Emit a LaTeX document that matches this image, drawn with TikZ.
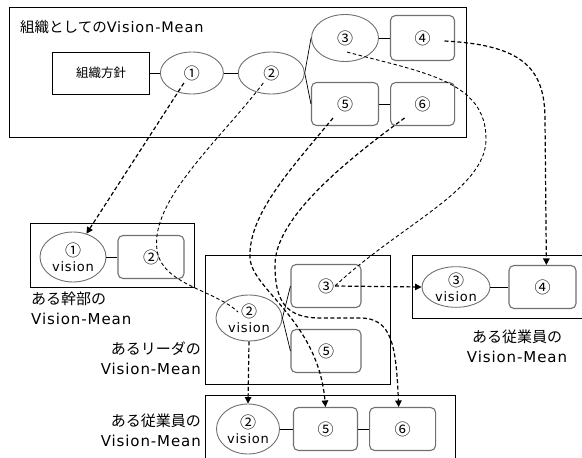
\documentclass[tikz,border=0pt]{standalone}
\usepackage{fontspec}
\setmainfont{Noto Sans CJK JP}
\newfontfamily\lfont{DejaVu Sans}[LetterSpace=6]
\usepackage{tikz}
\usetikzlibrary{arrows.meta,positioning,shapes.geometric}
\definecolor{edgegray}{RGB}{112,112,112}
\newcommand\visionword{{\lfont\fontsize{13}{14}\selectfont vision}}

\begin{document}
\begin{tikzpicture}[x=1pt,y=-1pt,
 frame/.style={draw,line width=0.8pt,anchor=north west,inner sep=0pt},
 oval/.style={ellipse,draw=edgegray,line width=0.9pt,inner sep=0pt,align=center,font=\fontsize{16}{15}\selectfont},
 rbox/.style={draw=edgegray,line width=1.1pt,rounded corners=5pt,inner sep=0pt,minimum width=66pt,minimum height=43pt,font=\fontsize{16}{16}\selectfont},
 link/.style={line width=0.7pt},
 flow/.style={line width=1.2pt,dash pattern=on 4pt off 2.5pt,-{Triangle[length=6.5pt,width=6.5pt]}},
 trace/.style={line width=0.9pt,dash pattern=on 3.5pt off 2.5pt},
 caption/.style={font=\fontsize{15}{20}\selectfont,inner sep=0pt}
]
\useasboundingbox (0,0) rectangle (582,458);
% frames
\node[frame,minimum width=457pt,minimum height=130pt] (orgframe) at (9,7) {};
\node[frame,minimum width=164pt,minimum height=64pt] (execframe) at (30,223) {};
\node[frame,minimum width=185pt,minimum height=129pt] (leadframe) at (205,255) {};
\node[frame,minimum width=180pt,minimum height=63pt] (empaframe) at (412,255) {};
\node[frame,minimum width=250pt,minimum height=80pt] (empbframe) at (205,395) {};
% organisation
\node[anchor=west,inner sep=0pt,font=\fontsize{14.5}{16}\selectfont] (orgtitle) at (20,27) {組織としての{\lfont Vision-Mean}};
\node[draw,line width=0.9pt,minimum width=97pt,minimum height=42pt,font=\fontsize{12.5}{14}\selectfont] (policy) at (101,73) {組織方針};
\node[oval,minimum width=63pt,minimum height=42pt,right=10pt of policy] (o1) {①};
\node[oval,minimum width=66pt,minimum height=42pt,right=14pt of o1] (o2) {②};
\node[oval,minimum width=67pt,minimum height=47pt] (o3) at (345,38) {③};
\node[rbox,minimum width=64pt,minimum height=45pt,right=11pt of o3] (o4) {④};
\node[rbox,minimum width=67pt] (o5) at (345,104) {⑤};
\node[rbox,minimum width=64pt,right=11pt of o5] (o6) {⑥};
% executive
\node[oval,minimum width=66pt,minimum height=50pt] (e1) at (73,257) {①\\\visionword};
\node[rbox,right=11pt of e1] (e2) {②};
\node[caption,anchor=north west,align=left] (execlabel) at (31,292) {ある幹部の\\{\lfont Vision-Mean}};
% leader
\node[oval,minimum width=66pt,minimum height=46pt] (l2) at (249,318) {②\\\visionword};
\node[rbox,minimum width=70pt] (l3) at (326,286) {③};
\node[rbox,minimum width=70pt] (l5) at (326,351) {⑤};
\node[caption,anchor=north east,align=right] (leadlabel) at (201,342) {あるリーダの\\{\lfont Vision-Mean}};
% employee (right)
\node[oval,minimum width=68pt,minimum height=40pt] (a3) at (456,287) {③\\\visionword};
\node[rbox,minimum width=67pt,right=18pt of a3] (a4) {④};
\node[caption,align=center] (empalabel) at (517,346) {ある従業員の\\{\lfont Vision-Mean}};
% employee (bottom)
\node[oval,minimum width=63pt,minimum height=50pt] (b2) at (248,429) {②\\\visionword};
\node[rbox,minimum width=64pt,right=13pt of b2] (b5) {⑤};
\node[rbox,right=11pt of b5] (b6) {⑥};
\node[caption,anchor=north east,align=right] (empblabel) at (201,414) {ある従業員の\\{\lfont Vision-Mean}};
% solid links
\draw[link] (policy) -- (o1);
\draw[link] (o1) -- (o2);
\draw[link] (o2.east) -- (o3.west);
\draw[link] (o2.east) -- (o5.west);
\draw[link] (o3) -- (o4);
\draw[link] (o5) -- (o6);
\draw[link] (e1) -- (e2);
\draw[link] (l2.east) -- (l3.west);
\draw[link] (l2.east) -- (l5.west);
\draw[link] (a3) -- (a4);
\draw[link] (b2) -- (b5);
\draw[link] (b5) -- (b6);
% dashed links
\draw[flow] ([shift={(-8,10)}]o1.center) -- (e1.60);
\draw[trace] ([shift={(-8,10)}]o2.center) .. controls (220,140) and (150,200) .. (157,250)
  .. controls (162,285) and (215,290) .. ([shift={(-11,-6)}]l2.center);
\draw[flow] (l2.south) -- (b2.north);
\draw[trace] ([shift={(2,14)}]o3.center) .. controls (420,72) and (487,80) .. (486,140)
  .. controls (485,190) and (400,225) .. ([xshift=9]l3.center);
\draw[flow] ([xshift=9]l3.center) -- (a3.west);
\draw[flow] ([shift={(22,3)}]o4.center) .. controls (525,45) and (545,70) .. (545,120) -- (a4.80);
\draw[flow] ([shift={(-12,14)}]o5.center) .. controls (290,170) and (248,215) .. (250,258)
  .. controls (252,290) and (318,320) .. (b5.north);
\draw[flow] ([shift={(-18,14)}]o6.center) .. controls (340,165) and (275,220) .. (275,265)
  .. controls (275,300) and (285,318) .. (320,318) -- (360,318)
  .. controls (392,318) and (396,345) .. (b6.100);
\end{tikzpicture}
\end{document}
